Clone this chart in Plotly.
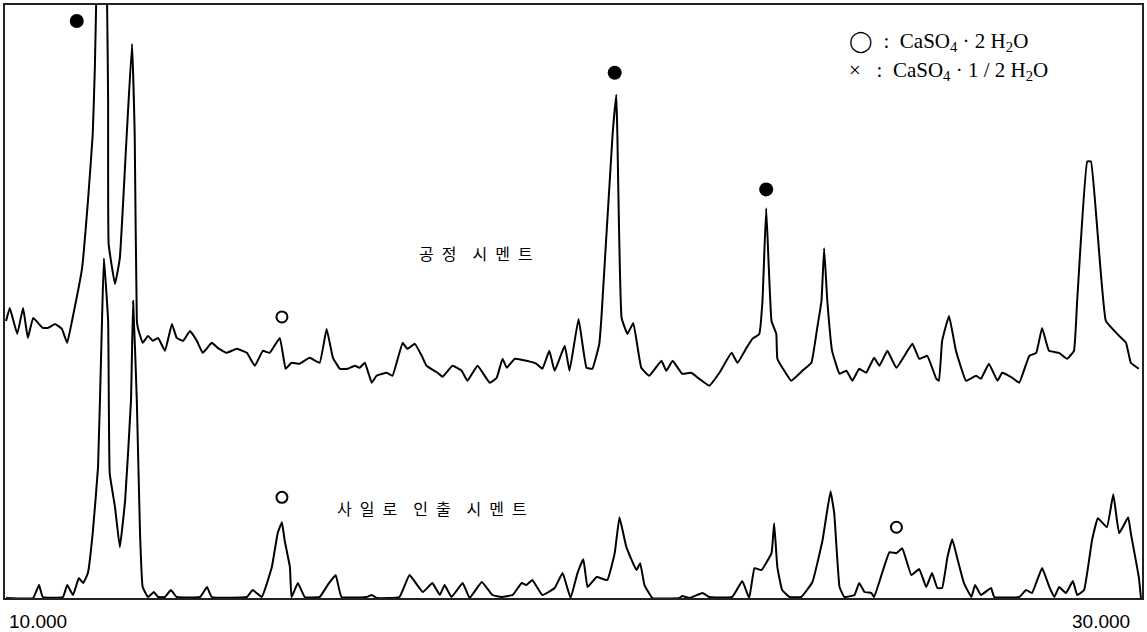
import plotly.graph_objects as go

# 2-theta (deg) and relative intensity (arbitrary units, stacked display)
upper_2theta = [9.40, 9.47, 9.61, 9.72, 9.81, 9.91, 10.09, 10.19, 10.32, 10.45, 10.55, 10.64, 10.83, 10.94,
                11.03, 11.07, 11.18, 11.30, 11.32, 11.33, 11.45, 11.54, 11.67, 11.77, 11.82, 11.86, 11.88,
                11.97, 12.07, 12.16, 12.26, 12.39, 12.52, 12.61, 12.73, 12.86, 12.99, 13.10, 13.27, 13.38,
                13.55, 13.74, 13.93, 14.08, 14.23, 14.36, 14.55, 14.66, 14.77, 14.92, 15.11, 15.30, 15.43,
                15.55, 15.68, 15.83, 15.96, 16.05, 16.15, 16.28, 16.37, 16.56, 16.67, 16.86, 16.95, 17.09,
                17.22, 17.31, 17.52, 17.61, 17.80, 17.97, 18.08, 18.27, 18.50, 18.63, 18.74, 18.82, 18.97,
                19.19, 19.38, 19.49, 19.62, 19.72, 19.91, 20.00, 20.17, 20.32, 20.43, 20.56, 20.60, 20.81,
                20.88, 20.90, 20.98, 21.09, 21.20, 21.35, 21.50, 21.73, 21.82, 21.94, 22.12, 22.29, 22.44,
                22.63, 22.82, 23.05, 23.16, 23.33, 23.44, 23.57, 23.63, 23.70, 23.80, 23.89, 23.91, 24.04,
                24.17, 24.38, 24.55, 24.66, 24.74, 24.79, 24.85, 24.94, 25.08, 25.21, 25.32, 25.45, 25.58,
                25.73, 25.83, 25.98, 26.15, 26.45, 26.58, 26.73, 26.90, 26.95, 27.01, 27.14, 27.27, 27.46,
                27.65, 27.74, 27.89, 28.05, 28.14, 28.33, 28.46, 28.65, 28.78, 28.89, 29.02, 29.21, 29.36,
                29.49, 29.55, 29.74, 29.81, 30.09, 30.34, 30.47, 30.56, 30.71]
upper_intensity = [278, 291, 265, 291, 261, 281, 271, 271, 275, 270, 256, 278, 331, 398,
                   465, 531, 800, 598, 498, 355, 315, 341, 465, 556, 465, 278, 271,
                   256, 263, 258, 261, 248, 275, 261, 258, 268, 258, 246, 256, 251,
                   246, 250, 246, 233, 248, 246, 261, 230, 236, 235, 241, 236, 270,
                   241, 230, 230, 233, 231, 236, 216, 223, 226, 223, 256, 250, 255,
                   243, 233, 226, 222, 233, 228, 218, 233, 216, 221, 240, 231, 240,
                   238, 235, 230, 248, 228, 253, 228, 280, 231, 230, 255, 281, 465,
                   505, 465, 281, 265, 276, 231, 223, 238, 228, 238, 225, 226, 220,
                   213, 226, 246, 236, 251, 260, 265, 298, 391, 278, 265, 240, 228,
                   218, 228, 236, 271, 298, 351, 298, 248, 225, 228, 218, 230, 226,
                   241, 233, 248, 231, 255, 240, 243, 220, 218, 258, 283, 248, 218,
                   223, 220, 235, 218, 226, 221, 216, 243, 246, 271, 248, 246, 240,
                   248, 298, 438, 438, 278, 263, 256, 236, 230]

lower_2theta = [9.40, 9.91, 10.02, 10.09, 10.47, 10.55, 10.66, 10.77, 10.85, 10.94, 11.03, 11.13, 11.20,
                11.24, 11.32, 11.35, 11.45, 11.54, 11.64, 11.75, 11.79, 11.86, 11.92, 11.97, 12.07, 12.18,
                12.26, 12.39, 12.50, 12.61, 13.05, 13.18, 13.27, 13.93, 14.04, 14.21, 14.40, 14.51, 14.59,
                14.64, 14.74, 14.77, 14.89, 15.02, 15.30, 15.45, 15.60, 15.71, 16.18, 16.28, 16.37, 16.80,
                16.99, 17.24, 17.42, 17.56, 17.65, 17.78, 17.99, 18.12, 18.35, 18.55, 18.72, 18.93, 19.10,
                19.19, 19.30, 19.49, 19.72, 19.87, 20.02, 20.15, 20.26, 20.34, 20.51, 20.71, 20.85, 20.94,
                21.07, 21.26, 21.33, 21.41, 21.56, 22.07, 22.12, 22.26, 22.50, 22.63, 23.06, 23.25, 23.38,
                23.48, 23.61, 23.80, 23.85, 23.91, 24.00, 24.14, 24.36, 24.57, 24.76, 24.91, 24.98, 25.08,
                25.17, 25.36, 25.45, 25.55, 25.68, 25.73, 25.88, 26.02, 26.15, 26.26, 26.43, 26.58, 26.71,
                26.82, 26.92, 27.01, 27.11, 27.20, 27.29, 27.42, 27.56, 27.63, 27.74, 27.93, 27.99, 28.46,
                28.59, 28.70, 28.89, 29.02, 29.12, 29.21, 29.34, 29.47, 29.55, 29.68, 29.83, 29.94, 30.11,
                30.23, 30.34, 30.51, 30.56, 30.71, 30.75]
lower_intensity = [0, 0, 13, 1, 1, 13, 3, 20, 15, 25, 65, 131, 268,
                   341, 278, 125, 91, 51, 98, 198, 298, 198, 65, 11, 1, 6,
                   1, 1, 8, 1, 1, 11, 1, 1, 8, 1, 31, 65, 76,
                   58, 31, 1, 15, 1, 1, 13, 23, 1, 1, 3, 0, 1,
                   23, 6, 15, 3, 13, 1, 15, 0, 16, 3, 1, 3, 15,
                   13, 18, 3, 10, 25, 0, 25, 39, 11, 21, 18, 45, 81,
                   51, 28, 35, 13, 0, 0, 2, 0, 5, 1, 1, 17, 0,
                   30, 28, 45, 75, 31, 8, 1, 1, 16, 58, 107, 85, 11,
                   1, 3, 15, 6, 5, 1, 25, 46, 45, 50, 23, 29, 11,
                   25, 10, 10, 41, 59, 41, 15, 1, 13, 3, 10, 1, 1,
                   8, 5, 30, 12, 1, 11, 5, 17, 3, 8, 58, 80, 71,
                   104, 65, 81, 65, 21, 0]

# peak markers
filled_2theta = [10.73, 20.85, 23.70]
filled_intensity = [579, 527, 410]
open_2theta = [14.59, 14.59, 26.15]
open_intensity = [282, 101, 71]

series_labels = ["공\u2002정\u2003시\u2002멘\u2002트", "사\u2002일\u2002로\u2003인\u2002출\u2003시\u2002멘\u2002트"]
series_label_pos = [(18.25, 346), (17.42, 90)]
legend_lines = ["◯  :  CaSO<sub>4</sub> · 2 H<sub>2</sub>O", "×   :  CaSO<sub>4</sub> · 1 / 2 H<sub>2</sub>O"]
tick_values = [10, 30]
tick_labels = ["10.000", "30.000"]

fig = go.Figure()
fig.add_trace(go.Scatter(x=upper_2theta, y=upper_intensity, mode="lines",
                         line=dict(color="black", width=2, shape="spline", smoothing=0.3), showlegend=False))
fig.add_trace(go.Scatter(x=lower_2theta, y=lower_intensity, mode="lines",
                         line=dict(color="black", width=2, shape="spline", smoothing=0.3), showlegend=False))
fig.add_trace(go.Scatter(x=filled_2theta, y=filled_intensity, mode="markers",
                         marker=dict(symbol="circle", size=14, color="black"), showlegend=False))
fig.add_trace(go.Scatter(x=open_2theta, y=open_intensity, mode="markers",
                         marker=dict(symbol="circle-open", size=11, color="black", line=dict(width=2)),
                         showlegend=False))

for txt, (x, y) in zip(series_labels, series_label_pos):
    fig.add_annotation(x=x, y=y, text=txt, showarrow=False, xanchor="center", yanchor="middle",
                       font=dict(family="Noto Sans CJK KR", size=16, color="black"))

for i, txt in enumerate(legend_lines):
    fig.add_annotation(x=25.22, y=558 - 29 * i, text=txt, showarrow=False, xanchor="left", yanchor="middle",
                       font=dict(family="Liberation Serif", size=21, color="black"))

for v, t in zip(tick_values, tick_labels):
    fig.add_annotation(x=v, y=0, yref="paper", text=t, showarrow=False, xanchor="center", yanchor="top",
                       yshift=-11, font=dict(family="Liberation Sans", size=19, color="black"))

fig.update_layout(
    width=1147, height=632,
    margin=dict(l=5, r=4, t=3, b=34),
    paper_bgcolor="white", plot_bgcolor="white",
    xaxis=dict(range=[9.38, 30.77], showgrid=False, zeroline=False, showticklabels=False, ticks="",
               showline=True, mirror=True, linecolor="#222", linewidth=1.5),
    yaxis=dict(range=[0, 595], showgrid=False, zeroline=False, showticklabels=False, ticks="",
               showline=True, mirror=True, linecolor="#222", linewidth=1.5),
)

fig.write_html("out.html", config={"displayModeBar": False},
               post_script="document.body.style.margin='0px';document.body.style.overflow='hidden';")
